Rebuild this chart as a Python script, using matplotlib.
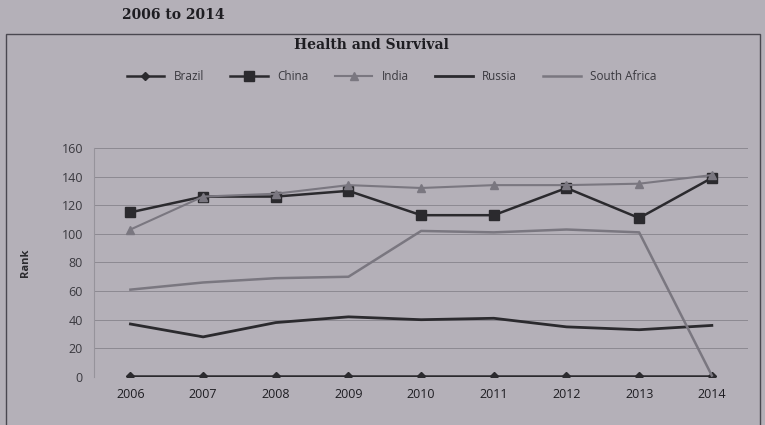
#!/usr/bin/env python
"""Health and Survival rank of the BRICS countries, 2006 to 2014."""

import matplotlib

matplotlib.use("Agg")
import matplotlib.pyplot as plt
from matplotlib.patches import Rectangle

years = [2006, 2007, 2008, 2009, 2010, 2011, 2012, 2013, 2014]
brazil = [1, 1, 1, 1, 1, 1, 1, 1, 1]
china = [115, 126, 126, 130, 113, 113, 132, 111, 139]
india = [103, 126, 128, 134, 132, 134, 134, 135, 141]
russia = [37, 28, 38, 42, 40, 41, 35, 33, 36]
south_africa = [61, 66, 69, 70, 102, 101, 103, 101, 1]
y_ticks = list(range(0, 161, 20))

DARK = "#2b2a2e"
GREY = "#7a7780"
PAPER = "#b4b0b8"

plt.rcParams["font.family"] = ["Open Sans", "DejaVu Sans"]

fig = plt.figure(figsize=(7.65, 4.25), dpi=100, facecolor=PAPER)
ax = fig.add_axes([0.123, 0.113, 0.855, 0.539], facecolor=PAPER)

ax.plot(years, brazil, color=DARK, lw=1.8, marker="D", ms=4, label="Brazil")
ax.plot(years, china, color=DARK, lw=1.8, marker="s", ms=6.5, label="China")
ax.plot(years, india, color=GREY, lw=1.5, marker="^", ms=5.5, label="India")
ax.plot(years, russia, color=DARK, lw=2.0, label="Russia")
ax.plot(years, south_africa, color=GREY, lw=1.8, label="South Africa")

ax.set_xlim(2005.5, 2014.5)
ax.set_ylim(0, 160)
ax.set_xticks(years)
ax.set_xticklabels([str(y) for y in years], fontsize=9, color="#1e1d22")
ax.set_yticks(y_ticks)
ax.set_yticklabels([str(v) for v in y_ticks], fontsize=9, color="#3a393f")
ax.tick_params(length=0, pad=8)
ax.grid(axis="y", color="#8c8991", lw=0.7)
ax.set_axisbelow(True)
for side in ("top", "right", "bottom"):
    ax.spines[side].set_visible(False)
ax.spines["left"].set_color("#96939b")
ax.set_ylabel("Rank", fontsize=8, fontweight="bold", color="#2b2a2e", labelpad=22)

ax.legend(
    loc="center",
    bbox_to_anchor=(0.455, 1.31),
    ncol=5,
    frameon=False,
    fontsize=8.5,
    handlelength=3.2,
    columnspacing=2.2,
    labelcolor="#3a393f",
)

fig.text(0.485, 0.895, "Health and Survival", ha="center", va="center",
         fontsize=10, fontweight="bold", family="DejaVu Serif", color="#1e1d22")
fig.text(0.16, 0.965, "2006 to 2014", ha="left", va="center",
         fontsize=10, fontweight="bold", family="DejaVu Serif", color="#1e1d22")

fig.add_artist(Rectangle((0.008, -0.01), 0.985, 0.93, transform=fig.transFigure,
                         fill=False, edgecolor="#4a4850", lw=1.0))

fig.savefig("out.png", dpi=100, facecolor=PAPER)
